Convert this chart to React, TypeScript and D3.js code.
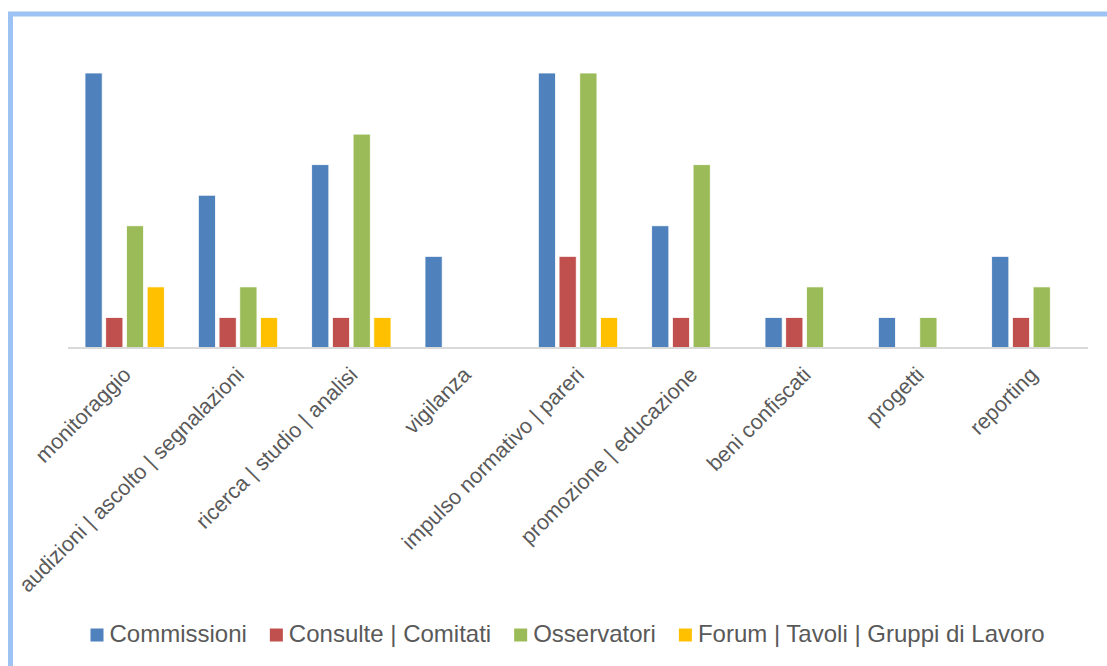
import React, { useEffect, useRef } from "react";
import * as d3 from "d3";

// Categories of activity and the count per body type
const categories = [
  "monitoraggio",
  "audizioni | ascolto | segnalazioni",
  "ricerca | studio | analisi",
  "vigilanza",
  "impulso normativo | pareri",
  "promozione | educazione",
  "beni confiscati",
  "progetti",
  "reporting",
];

const seriesNames = [
  "Commissioni",
  "Consulte | Comitati",
  "Osservatori",
  "Forum | Tavoli | Gruppi di Lavoro",
];

const commissioni = [9, 5, 6, 3, 9, 4, 1, 1, 3];
const consulte = [1, 1, 1, 0, 3, 1, 1, 0, 1];
const osservatori = [4, 2, 7, 0, 9, 6, 2, 1, 2];
const forum = [2, 1, 1, 0, 1, 0, 0, 0, 0];

const seriesColors = ["#4F81BD", "#C0504D", "#9BBB59", "#FFC000"];

const W = 1107;
const H = 666;
const FONT = "'Liberation Sans', Arial, Helvetica, sans-serif";

export default function App() {
  const ref = useRef<SVGSVGElement | null>(null);

  useEffect(() => {
    const svg = d3.select(ref.current);
    svg.selectAll("*").remove();

    const values = [commissioni, consulte, osservatori, forum];

    // Chart frame (only top and left edges fall inside the view)
    svg
      .append("rect")
      .attr("x", 10.5)
      .attr("y", 14)
      .attr("width", W + 20)
      .attr("height", H + 20)
      .attr("fill", "#fff")
      .attr("stroke", "#9DC3F5")
      .attr("stroke-width", 5);

    const x0 = d3
      .scaleBand<string>()
      .domain(categories)
      .range([68, 1088])
      .paddingInner(0.3)
      .paddingOuter(0.15);

    const x1 = d3
      .scaleBand<string>()
      .domain(seriesNames)
      .range([0, x0.bandwidth()])
      .paddingInner(0.17)
      .paddingOuter(0);

    const y = d3.scaleLinear().domain([0, 9]).range([348, 73]);

    const groups = svg
      .append("g")
      .selectAll("g")
      .data(categories)
      .join("g")
      .attr("transform", (d) => `translate(${x0(d)},0)`);

    groups
      .selectAll("rect")
      .data((_, i) =>
        seriesNames.map((s, k) => ({ s, k, v: values[k][i] }))
      )
      .join("rect")
      .filter((d) => d.v > 0)
      .attr("x", (d) => x1(d.s)!)
      .attr("y", (d) => y(d.v))
      .attr("width", x1.bandwidth())
      .attr("height", (d) => y(0) - y(d.v))
      .attr("fill", (d) => seriesColors[d.k])
      .attr("stroke", "#ffffff")
      .attr("stroke-width", 0.8);

    // Category axis line
    svg
      .append("line")
      .attr("x1", 68)
      .attr("x2", 1088)
      .attr("y1", y(0))
      .attr("y2", y(0))
      .attr("stroke", "#D9D9D9")
      .attr("stroke-width", 2);

    // Rotated category labels
    svg
      .append("g")
      .selectAll("text")
      .data(categories)
      .join("text")
      .attr("transform", (d) => {
        const cx = x0(d)! + x0.bandwidth() / 2;
        return `translate(${cx + 7.5},376) rotate(-45)`;
      })
      .attr("text-anchor", "end")
      .attr("font-family", FONT)
      .attr("font-size", 21.5)
      .attr("fill", "#595959")
      .text((d) => d);

    // Legend
    const legend = svg.append("g");
    let lx = 90.5;
    seriesNames.forEach((name, k) => {
      legend
        .append("rect")
        .attr("x", lx)
        .attr("y", 628.5)
        .attr("width", 13)
        .attr("height", 13)
        .attr("fill", seriesColors[k]);
      const t = legend
        .append("text")
        .attr("x", lx + 19)
        .attr("y", 642)
        .attr("font-family", FONT)
        .attr("font-size", 24)
        .attr("fill", "#595959")
        .text(name);
      const w = (t.node() as SVGTextElement).getComputedTextLength();
      lx += 19 + w + 23;
    });
  }, []);

  return (
    <svg
      ref={ref}
      width={W}
      height={H}
      style={{ position: "absolute", left: 0, top: 0, background: "#fff" }}
    />
  );
}
